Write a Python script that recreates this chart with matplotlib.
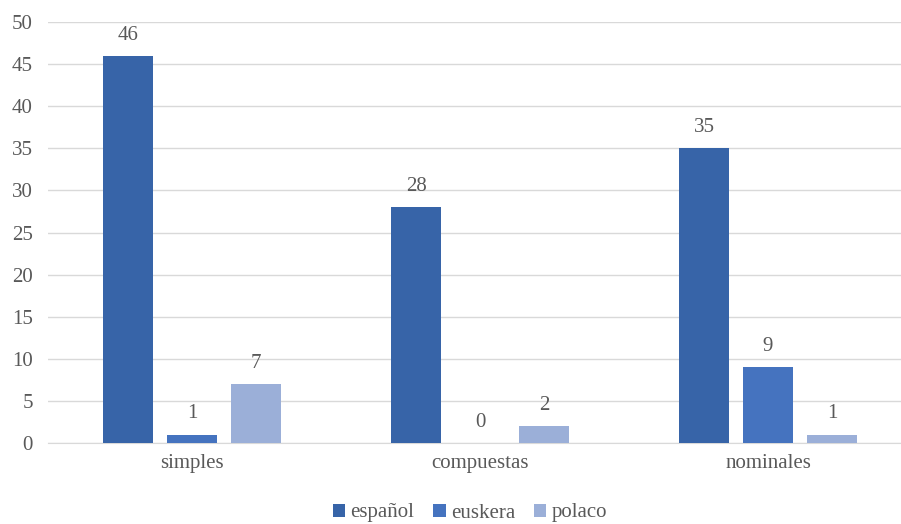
import numpy as np
import matplotlib.pyplot as plt

categorias = ['simples', 'compuestas', 'nominales']
espanol = [46, 28, 35]
euskera = [1, 0, 9]
polaco = [7, 2, 1]

series = [('español', espanol, '#3764A8'),
          ('euskera', euskera, '#4573BF'),
          ('polaco', polaco, '#9BAFD8')]

plt.rcParams['font.family'] = ['Liberation Serif', 'DejaVu Serif']
gris = '#595959'

fig = plt.figure(figsize=(9.01, 5.24), dpi=100)
ax = fig.add_axes([48 / 901, 81 / 524, 853 / 901, 421 / 524])

x = np.arange(len(categorias))
ancho = 0.174
paso = 0.222

for i, (nombre, valores, color) in enumerate(series):
    pos = x + (i - 1) * paso
    barras = ax.bar(pos, valores, ancho, color=color, label=nombre, zorder=3)
    for b, v in zip(barras, valores):
        ax.annotate(str(v), (b.get_x() + b.get_width() / 2, v),
                    xytext=(0, 8), textcoords='offset points',
                    ha='center', va='bottom', fontsize=15, color=gris)

ax.set_xlim(-0.5, -0.5 + 853 / 288)
ax.set_ylim(0, 50)
ax.set_yticks(range(0, 51, 5))
ax.set_xticks(x)
ax.set_xticklabels(categorias)
ax.tick_params(axis='both', length=0, labelsize=15, labelcolor=gris)
ax.tick_params(axis='y', pad=11)
ax.tick_params(axis='x', pad=8)
ax.yaxis.grid(True, color='#D9D9D9', linewidth=1, zorder=0)
for s in ['top', 'right', 'left']:
    ax.spines[s].set_visible(False)
ax.spines['bottom'].set_color('#D9D9D9')

leg = fig.legend(loc='center', bbox_to_anchor=(470 / 901, 1 - 513 / 524), ncol=3,
                 frameon=False, fontsize=15, handlelength=0.6, handleheight=0.6,
                 handletextpad=0.25, columnspacing=0.9, labelcolor=gris)

plt.savefig('out.png', dpi=100)
